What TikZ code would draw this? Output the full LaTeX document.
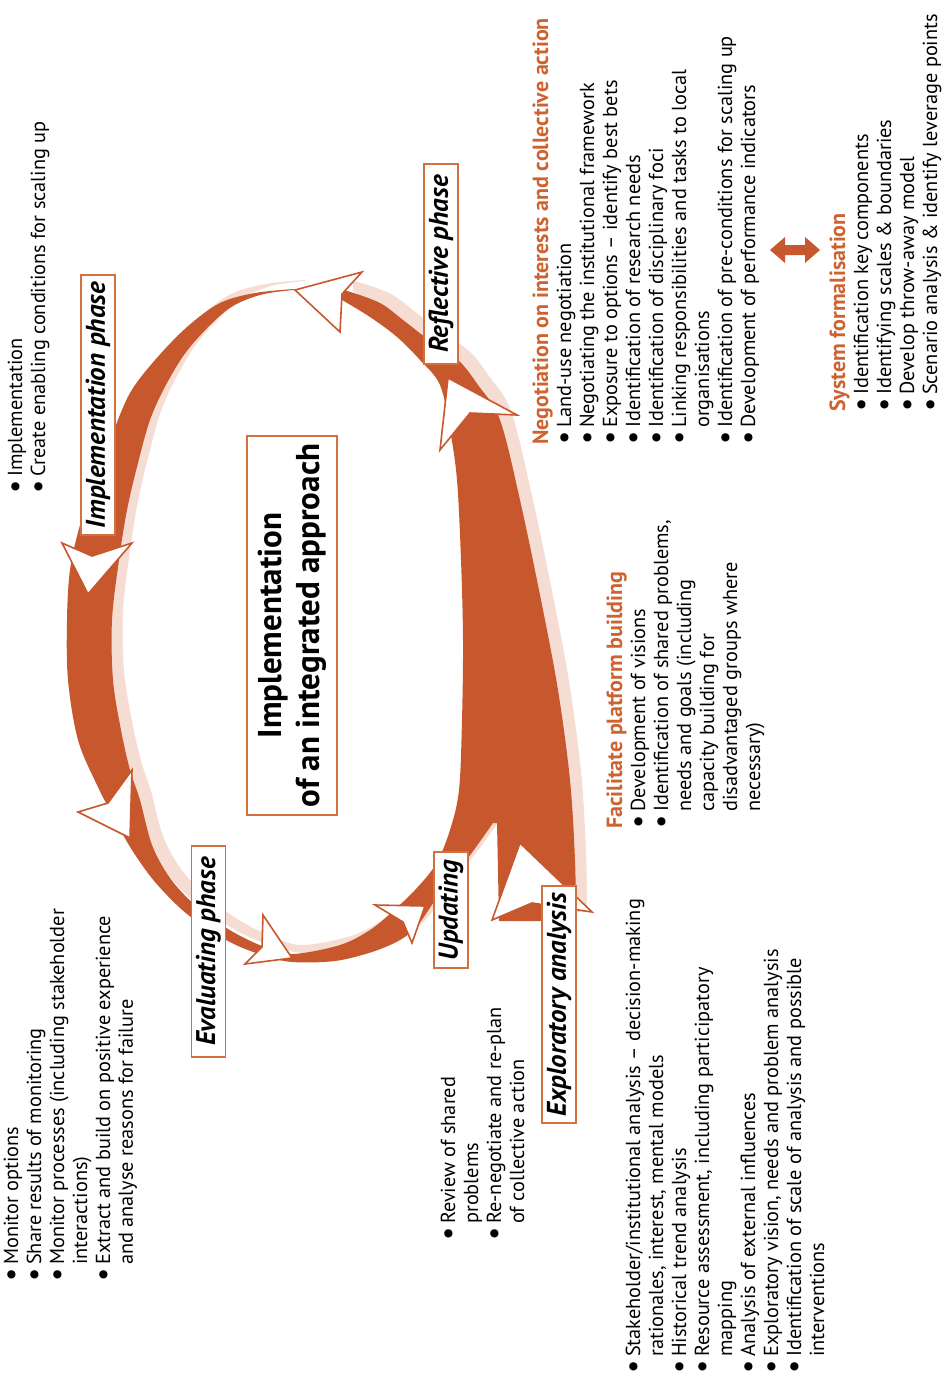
\documentclass[tikz,border=0pt]{standalone}
\usepackage{fontspec}
\setmainfont{PT Sans}
\definecolor{band}{HTML}{C7582D}
\definecolor{pinkc}{HTML}{F6DDD4}
\definecolor{headc}{HTML}{CE6332}
\definecolor{boxc}{HTML}{D2703F}
\newcommand\mybul{\makebox[17pt][l]{\raisebox{-2.6pt}{\scalebox{1.45}{\textbullet}}}}
\newcommand\hd[1]{\multicolumn{2}{@{}l@{}}{\color{headc}\bfseries\fontsize{22}{23}\selectfont #1}}
\begin{document}
\begin{tikzpicture}[x=1pt,y=-1pt,
  txt/.style={rotate=90, anchor=base west, inner sep=0pt, font=\fontsize{20.3}{23}\selectfont},
  phase/.style={rotate=90, draw=boxc, line width=1.4pt, fill=white, inner sep=0pt, minimum height=34pt, font=\fontsize{27}{30}\selectfont\bfseries\itshape},
  head/.style={fill=white, draw=band, line width=1.6pt, line join=miter}]
\useasboundingbox (0,0) rectangle (946,1381);
% shadow
\fill[pinkc, shift={(11,-9)}] plot[smooth, tension=0.55] coordinates {(294,289) (255,293) (220,303) (187,327) (155,360) (130,393) (112,435) (95,480) (80,525) (70,570) (67,620) (68,680) (78,740) (97,785) (115,820) (132,850) (155,882) (187,914) (228,941) (262,955) (292,962) (335,961) (372,952) (400,940) (418,925) (440,893) (468,858) (493,823)} -- (497,823) -- (499,921) -- (576,921) -- plot[smooth, tension=0.55] coordinates {(576,921) (575,860) (570,780) (558,690) (541,600) (520,500) (500,420) (478,385) (458,360) (425,337) (403,320) (380,303) (347,291) (342,293)} -- plot[smooth, tension=0.55] coordinates {(342,300) (370,317) (397,337) (420,360) (440,385) (450,430) (457,480) (461,560) (463,640) (462,720) (459,790) (450,830) (436,864) (415,890) (392,912) (370,930) (340,945) (292,954) (262,946) (228,929) (195,905) (170,878) (152,845) (140,800) (130,770) (121,730) (113,680) (112,620) (119,560) (127,510) (137,467) (150,420) (167,383) (190,347) (227,310) (260,295) (294,290)} -- cycle;
% band
\fill[band] plot[smooth, tension=0.55] coordinates {(294,289) (255,293) (220,303) (187,327) (155,360) (130,393) (112,435) (95,480) (80,525) (70,570) (67,620) (68,680) (78,740) (97,785) (115,820) (132,850) (155,882) (187,914) (228,941) (262,955) (292,962) (335,961) (372,952) (400,940) (418,925) (440,893) (468,858) (493,823)} -- (497,823) -- (499,921) -- (576,921) -- plot[smooth, tension=0.55] coordinates {(576,921) (575,860) (570,780) (558,690) (541,600) (520,500) (500,420) (478,385) (458,360) (425,337) (403,320) (380,303) (347,291) (342,293)} -- plot[smooth, tension=0.55] coordinates {(342,300) (370,317) (397,337) (420,360) (440,385) (450,430) (457,480) (461,560) (463,640) (462,720) (459,790) (450,830) (436,864) (415,890) (392,912) (370,930) (340,945) (292,954) (262,946) (228,929) (195,905) (170,878) (152,845) (140,800) (130,770) (121,730) (113,680) (112,620) (119,560) (127,510) (137,467) (150,420) (167,383) (190,347) (227,310) (260,295) (294,290)} -- cycle;
% arrowheads
\filldraw[head] (295,290) -- (362,272) -- (342,294) -- (340,332) -- cycle;
\filldraw[head] (62,543) -- (92,556) -- (132,543) -- (88,594) -- cycle;
\filldraw[head] (78,812) -- (108,803) -- (132,770) -- (130,838) -- cycle;
\filldraw[head] (245,964) -- (262,947) -- (263,915) -- (292,958) -- cycle;
\filldraw[head] (375,905) -- (425,906) -- (412,943) -- (403,922) -- cycle;
\filldraw[head] (448,378) -- (517,415) -- (470,413) -- (440,450) -- cycle;
\filldraw[head] (520,843) -- (592,912) -- (532,903) -- (492,920) -- cycle;
% phase labels
\node[phase, minimum width=260pt] (implph) at (98,405) {Implementation phase};
\node[phase, minimum width=200pt] (reflph) at (441,264) {Reflective phase};
\node[phase, minimum width=211pt] (evalph) at (208.5,951.5) {Evaluating phase};
\node[phase, minimum width=116pt] (updph) at (451,910) {Updating};
\node[phase, minimum width=237pt] (explph) at (559,1004.5) {Exploratory analysis};
\node[rotate=90, draw=boxc, line width=1.4pt, fill=white, inner sep=0pt, minimum width=379pt, minimum height=90pt, align=center, font=\fontsize{33}{38}\selectfont\bfseries] (center) at (292,625.5) {Implementation\\of an integrated approach};
% text blocks
\node[txt] (impltxt) at (22,494) {\begin{tabular}[t]{@{}l@{}l@{}}\mybul&Implementation\\ \mybul&Create enabling conditions for scaling up\end{tabular}};
\node[txt] (negtxt) at (548,445) {\begin{tabular}[t]{@{}l@{}l@{}}
\hd{Negotiation on interests and collective action}\\
\mybul&Land-use negotiation\\
\mybul&Negotiating the institutional framework\\
\mybul&Exposure to options – identify best bets\\
\mybul&Identification of research needs\\
\mybul&Identification of disciplinary foci\\
\mybul&Linking responsibilities and tasks to local\\
&organisations\\
\mybul&Identification of pre-conditions for scaling up\\
\mybul&Development of performance indicators
\end{tabular}};
\node[txt] (systxt) at (845,412) {\begin{tabular}[t]{@{}l@{}l@{}}
\hd{System formalisation}\\
\mybul&Identification key components\\
\mybul&Identifying scales \& boundaries\\
\mybul&Develop throw-away model\\
\mybul&Scenario analysis \& identify leverage points
\end{tabular}};
\node[txt] (factxt) at (622,829) {\begin{tabular}[t]{@{}l@{}l@{}}
\hd{Facilitate platform building}\\
\mybul&Development of visions\\
\mybul&Identification of shared problems,\\
&needs and goals (including\\
&capacity building for\\
&disadvantaged groups where\\
&necessary)
\end{tabular}};
\node[txt] (evaltxt) at (18,1282) {\begin{tabular}[t]{@{}l@{}l@{}}
\mybul&Monitor options\\
\mybul&Share results of monitoring\\
\mybul&Monitor processes (including stakeholder\\
&interactions)\\
\mybul&Extract and build on positive experience\\
&and analyse reasons for failure
\end{tabular}};
\node[txt] (updtxt) at (455,1241) {\begin{tabular}[t]{@{}l@{}l@{}}
\mybul&Review of shared\\
&problems\\
\mybul&Re-negotiate and re-plan\\
&of collective action
\end{tabular}};
\node[txt] (expltxt) at (640,1374) {\begin{tabular}[t]{@{}l@{}l@{}}
\mybul&Stakeholder/institutional analysis – decision-making\\
&rationales, interest, mental models\\
\mybul&Historical trend analysis\\
\mybul&Resource assessment, including participatory\\
&mapping\\
\mybul&Analysis of external influences\\
\mybul&Exploratory vision, needs and problem analysis\\
\mybul&Identification of scale of analysis and possible\\
&interventions
\end{tabular}};
% double arrow
\fill[band] (770,250) -- (785,237) -- (785,245) -- (805,245) -- (805,237) -- (820,250) -- (805,263) -- (805,255) -- (785,255) -- (785,263) -- cycle;
\end{tikzpicture}
\end{document}
